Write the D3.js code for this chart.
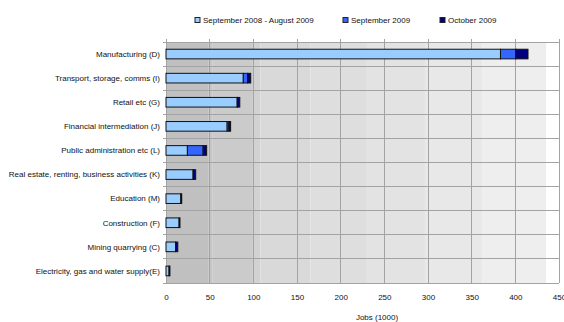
<!DOCTYPE html>
<html><head><meta charset="utf-8">
<script src="https://cdn.jsdelivr.net/npm/d3@7"></script>
<style>
html,body{margin:0;padding:0;background:#fff;}
svg text{font-family:"Liberation Sans",Arial,sans-serif;fill:#111;}
</style></head>
<body>
<svg id="c" width="564" height="322"></svg>
<script>
const categories = [
  "Manufacturing (D)",
  "Transport, storage, comms (I)",
  "Retail etc (G)",
  "Financial intermediation (J)",
  "Public administration etc (L)",
  "Real estate, renting, business activities (K)",
  "Education (M)",
  "Construction (F)",
  "Mining quarrying (C)",
  "Electricity, gas and water supply(E)"
];
const seriesNames = ["September 2008 - August 2009", "September 2009", "October 2009"];
const sepAug = [383, 88.5, 81.5, 70, 24.5, 31, 17, 15, 11, 3.5];
const sep09  = [17.5, 5, 0.5, 2, 18, 0.5, 0, 0, 0, 0];
const oct09  = [14, 3.5, 2.5, 2, 4, 2.5, 1, 1, 2.5, 1];
const xTicks = [0, 50, 100, 150, 200, 250, 300, 350, 400, 450];
const axisTitle = "Jobs (1000)";

const colors = ["#99ccff", "#3366ff", "#000080"];
const svg = d3.select("#c");
const L = 166, R = 559, T = 42, B = 283;

const x = d3.scaleLinear().domain([0, 450]).range([L, R]);
const y = d3.scaleBand().domain(categories).range([T, B]).paddingInner(0.6).paddingOuter(0.3);

// background gradient bands (values in x units)
const bands = [
  [0, 49, "#c0c0c0"], [49, 53.5, "#c6c6c6"], [53.5, 99.5, "#cbcbcb"],
  [99.5, 108, "#d2d2d2"], [108, 165.5, "#d9d9d9"], [165.5, 230, "#dedede"],
  [230, 296.5, "#e3e3e3"], [296.5, 362, "#e8e8e8"], [362, 435.5, "#eeeeee"],
  [435.5, 450, "#ffffff"]
];
svg.append("g").selectAll("rect").data(bands).join("rect")
  .attr("x", d => x(d[0])).attr("width", d => x(d[1]) - x(d[0]))
  .attr("y", T).attr("height", B - T).attr("fill", d => d[2]);

const gridColor = "#a3a3a3";
// vertical gridlines with small ticks above top
svg.append("g").selectAll("line").data(xTicks).join("line")
  .attr("x1", d => x(d)).attr("x2", d => x(d))
  .attr("y1", T - 3).attr("y2", B)
  .attr("stroke", gridColor).attr("stroke-width", 1).attr("shape-rendering", "crispEdges");

// horizontal category boundaries
const step = y.step();
const bounds = d3.range(categories.length + 1).map(i => T + i * (B - T) / categories.length);
svg.append("g").selectAll("line").data(bounds).join("line")
  .attr("x1", L - 3).attr("x2", R)
  .attr("y1", d => d).attr("y2", d => d)
  .attr("stroke", gridColor).attr("stroke-width", 1).attr("shape-rendering", "crispEdges");

// stacked bars
const rows = categories.map((c, i) => ({cat: c, vals: [sepAug[i], sep09[i], oct09[i]]}));
const stackData = rows.map(r => { const o = {cat: r.cat}; seriesNames.forEach((s, j) => o[s] = r.vals[j]); return o; });
const stack = d3.stack().keys(seriesNames)(stackData);
stack.forEach((layer, j) => {
  svg.append("g").selectAll("rect").data(layer.filter(d => d[1] - d[0] > 0)).join("rect")
    .attr("x", d => x(d[0])).attr("width", d => x(d[1]) - x(d[0]))
    .attr("y", d => y(d.data.cat)).attr("height", y.bandwidth())
    .attr("fill", colors[j]).attr("stroke", "#111").attr("stroke-width", 1);
});

// category labels
svg.append("g").selectAll("text").data(categories).join("text")
  .attr("x", L - 6).attr("y", d => y(d) + y.bandwidth() / 2)
  .attr("dy", "0.35em").attr("text-anchor", "end")
  .attr("font-size", 8).text(d => d);

// bottom axis labels
const ax = svg.append("g").attr("transform", `translate(0,${B})`)
  .call(d3.axisBottom(x).tickValues(xTicks).tickSize(0).tickPadding(11).tickFormat(d3.format("d")));
ax.select(".domain").remove();
ax.selectAll("text").attr("font-size", 8).attr("fill", "#111")
  .style("font-family", '"Liberation Sans",Arial,sans-serif');

svg.append("text").attr("x", 377).attr("y", 319.5).attr("text-anchor", "middle")
  .attr("font-size", 8).text(axisTitle);

// legend
const legX = [197.5, 345.5, 442.5];
const lg = svg.append("g").selectAll("g").data(seriesNames).join("g")
  .attr("transform", (d, i) => `translate(${legX[i]},20)`);
lg.append("rect").attr("x", -2.5).attr("y", -2.5).attr("width", 5).attr("height", 5)
  .attr("fill", (d, i) => colors[i]).attr("stroke", "#222").attr("stroke-width", 1);
lg.append("text").attr("x", 5.5).attr("y", 0).attr("dy", "0.35em")
  .attr("font-size", 8).text(d => d);
</script>
</body></html>
